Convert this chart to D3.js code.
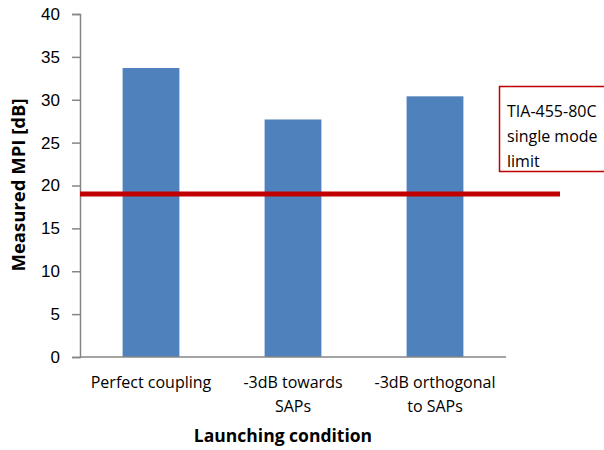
<!DOCTYPE html>
<html>
<head>
<meta charset="utf-8">
<script src="https://cdn.jsdelivr.net/npm/d3@7"></script>
<style>
  body { margin: 0; background: #fff; }
  svg { font-family: "Open Sans", sans-serif; }
</style>
</head>
<body>
<script>
// chart data
var categories = [["Perfect coupling"], ["-3dB towards", "SAPs"], ["-3dB orthogonal", "to SAPs"]];
var mpiValues = [33.7, 27.7, 30.4];
var yTicks = [0, 5, 10, 15, 20, 25, 30, 35, 40];
var limitValue = 19;
var limitLabel = ["TIA-455-80C", "single mode", "limit"];

var W = 604, H = 450;
var margin = { top: 14, right: 98, bottom: 93, left: 80 },
    width = W - margin.left - margin.right,
    height = H - margin.top - margin.bottom;

var svg = d3.select("body").append("svg")
    .attr("width", W)
    .attr("height", H);

var g = svg.append("g")
    .attr("transform", "translate(" + margin.left + "," + margin.top + ")");

var x = d3.scaleBand()
    .domain(d3.range(categories.length))
    .range([0, width])
    .paddingInner(0.6)
    .paddingOuter(0.3);

var y = d3.scaleLinear()
    .domain([0, 40])
    .range([height, 0]);

// bars
g.selectAll(".bar")
    .data(mpiValues)
    .enter()
    .append("rect")
    .attr("class", "bar")
    .attr("x", (d, i) => x(i))
    .attr("width", x.bandwidth())
    .attr("y", d => y(d))
    .attr("height", d => height - y(d))
    .attr("fill", "#4f81bd");

// y axis
var yAxis = g.append("g")
    .call(d3.axisLeft(y).tickValues(yTicks).tickSize(8).tickPadding(12));
yAxis.select(".domain").attr("stroke", "#868686").attr("stroke-width", 1.5);
yAxis.selectAll(".tick line").attr("stroke", "#868686").attr("stroke-width", 1.5);
yAxis.selectAll(".tick text")
    .attr("fill", "#000")
    .style("font-size", "17px");

// x axis line
g.append("line")
    .attr("x1", 0).attr("x2", width)
    .attr("y1", height).attr("y2", height)
    .attr("stroke", "#868686")
    .attr("stroke-width", 1.5);

// category labels
var lab = g.selectAll(".cat")
    .data(categories)
    .enter()
    .append("text")
    .attr("class", "cat")
    .attr("text-anchor", "middle")
    .attr("x", (d, i) => x(i) + x.bandwidth() / 2)
    .attr("y", height + 31)
    .style("font-size", "16px");
lab.selectAll("tspan")
    .data(d => d)
    .enter()
    .append("tspan")
    .attr("x", function () { return d3.select(this.parentNode).attr("x"); })
    .attr("dy", (d, i) => i === 0 ? 0 : 23.5)
    .text(d => d);

// limit line
g.append("line")
    .attr("x1", 0).attr("x2", 480)
    .attr("y1", y(limitValue)).attr("y2", y(limitValue))
    .attr("stroke", "#c00000")
    .attr("stroke-width", 5);

// limit label box
svg.append("rect")
    .attr("x", 499.5).attr("y", 86.5)
    .attr("width", 120).attr("height", 85)
    .attr("fill", "#fff")
    .attr("stroke", "#c00000")
    .attr("stroke-width", 1.5);
svg.append("text")
    .attr("x", 507)
    .attr("y", 117)
    .style("font-size", "16px")
    .selectAll("tspan")
    .data(limitLabel)
    .enter()
    .append("tspan")
    .attr("x", 507)
    .attr("dy", (d, i) => i === 0 ? 0 : 25)
    .text(d => d);

// axis titles
svg.append("text")
    .attr("x", 283)
    .attr("y", 442)
    .attr("text-anchor", "middle")
    .style("font-size", "17.5px")
    .style("font-weight", "bold")
    .text("Launching condition");

svg.append("text")
    .attr("transform", "translate(25,185) rotate(-90)")
    .attr("text-anchor", "middle")
    .style("font-size", "18.5px")
    .style("font-weight", "bold")
    .text("Measured MPI [dB]");
</script>
</body>
</html>
